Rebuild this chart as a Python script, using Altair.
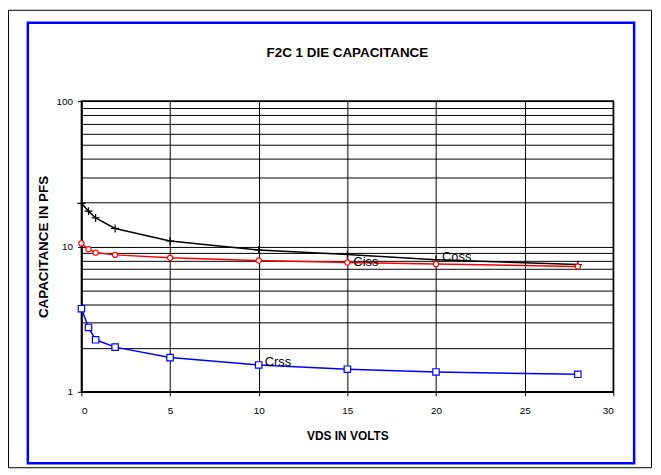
import altair as alt
import pandas as pd

# ---- data ----
vds = [0, 0.4, 0.8, 1.9, 5, 10, 15, 20, 28]
coss = [19.8, 17.5, 15.7, 13.3, 10.9, 9.45, 8.8, 8.1, 7.5]
ciss = [10.5, 9.57, 9.07, 8.75, 8.35, 8.0, 7.75, 7.56, 7.28]
crss = [3.73, 2.77, 2.28, 2.03, 1.72, 1.53, 1.43, 1.37, 1.32]

label_names = ["Ciss", "Coss", "Crss"]
label_x = [15, 20, 10]
label_y = [7.75, 8.1, 1.53]
label_dy = [-1, -3, -3]

x_ticks = [0, 5, 10, 15, 20, 25, 30]
y_ticks = [1, 2, 3, 4, 5, 6, 7, 8, 9, 10, 20, 30, 40, 50, 60, 70, 80, 90, 100]

FONT = "Liberation Sans"
W, H = 536, 293

xscale = alt.Scale(domain=[0, 30], nice=False, zero=False)
yscale = alt.Scale(type="log", domain=[1, 100], nice=False)

xaxis = alt.Axis(
    values=x_ticks, grid=True, gridColor="black", gridWidth=1, gridOpacity=1,
    domainColor="black", domainWidth=1.5, tickColor="black", tickSize=4,
    labelFont=FONT, labelFontSize=10, labelColor="black", labelPadding=10,
    title="VDS IN VOLTS", titleFont=FONT, titleFontSize=12, titleFontWeight="bold",
    titleColor="black", titleX=W / 2, titleY=44, titleBaseline="middle", titleAlign="center",
)
major = "datum.value == 1 || datum.value == 10 || datum.value == 100"
yaxis = alt.Axis(
    values=y_ticks, grid=True, gridColor="black", gridWidth=1, gridOpacity=1,
    domainColor="black", domainWidth=1.5, tickColor="black", tickSize=4,
    tickOpacity={"condition": {"test": major, "value": 1}, "value": 0},
    labelExpr="(datum.value == 1 || datum.value == 10 || datum.value == 100) ? datum.label : ''",
    labelFont=FONT, labelFontSize=10, labelColor="black", labelPadding=5,
    title="CAPACITANCE IN PFS", titleFont=FONT, titleFontSize=13.5, titleFontWeight="bold",
    titleColor="black", titleX=-38, titleY=H / 2, titleAngle=270,
    titleBaseline="middle", titleAlign="center",
)

df = pd.DataFrame({"vds": vds, "coss": coss, "ciss": ciss, "crss": crss})
base = alt.Chart(df)

grid_layer = base.mark_point(opacity=0).encode(
    x=alt.X("vds:Q", scale=xscale, axis=xaxis),
    y=alt.Y("coss:Q", scale=yscale, axis=yaxis),
)

def series(col, color, shape, size, filled_white=True, sw=1.5):
    line = base.mark_line(color=color, strokeWidth=sw).encode(
        x=alt.X("vds:Q", scale=xscale), y=alt.Y(f"{col}:Q", scale=yscale)
    )
    if filled_white:
        pts = base.mark_point(shape=shape, size=size, filled=True, fill="white",
                              stroke=color, strokeWidth=1.2, opacity=1)
    else:
        pts = base.mark_point(shape=shape, size=size, filled=False,
                              stroke=color, strokeWidth=1.2, opacity=1)
    pts = pts.encode(x=alt.X("vds:Q", scale=xscale), y=alt.Y(f"{col}:Q", scale=yscale))
    return line + pts

plus = "M-1,0L1,0M0,-1L0,1"
coss_l = series("coss", "black", plus, 64, filled_white=False)
ciss_l = series("ciss", "red", "circle", 28)
crss_l = series("crss", "blue", "square", 42)

lab_df = pd.DataFrame({"name": label_names, "x": label_x, "y": label_y, "dy": label_dy})
labels = alt.layer(*[
    alt.Chart(lab_df[lab_df.name == n]).mark_text(
        align="left", baseline="middle", dx=6, dy=d, font=FONT, fontSize=13, color="black"
    ).encode(x=alt.X("x:Q", scale=xscale), y=alt.Y("y:Q", scale=yscale), text="name:N")
    for n, d in zip(label_names, label_dy)
])

one = pd.DataFrame({"t": ["F2C 1 DIE CAPACITANCE"]})
title = alt.Chart(one).mark_text(
    font=FONT, fontSize=13.5, fontWeight="bold", color="black", align="center", baseline="middle"
).encode(x=alt.value(W / 2), y=alt.value(-48), text="t:N")

outer = alt.Chart(one).mark_rect(filled=False, color="black", strokeWidth=1).encode(
    x=alt.value(-73.5), x2=alt.value(574.5), y=alt.value(-91.5), y2=alt.value(369.5)
)
blue = alt.Chart(one).mark_rect(filled=False, color="blue", strokeWidth=2.5).encode(
    x=alt.value(-54), x2=alt.value(557), y=alt.value(-79), y2=alt.value(365)
)

chart = alt.layer(
    grid_layer, coss_l, ciss_l, crss_l, labels, title, outer, blue
).properties(
    width=W, height=H,
    autosize=alt.AutoSizeParams(type="none"),
    padding={"left": 74, "top": 92, "right": 40, "bottom": 78},
    background="white",
).configure_view(stroke="black", strokeWidth=1.5)

chart.save("out.html", embed_options={"renderer": "svg", "actions": False})
